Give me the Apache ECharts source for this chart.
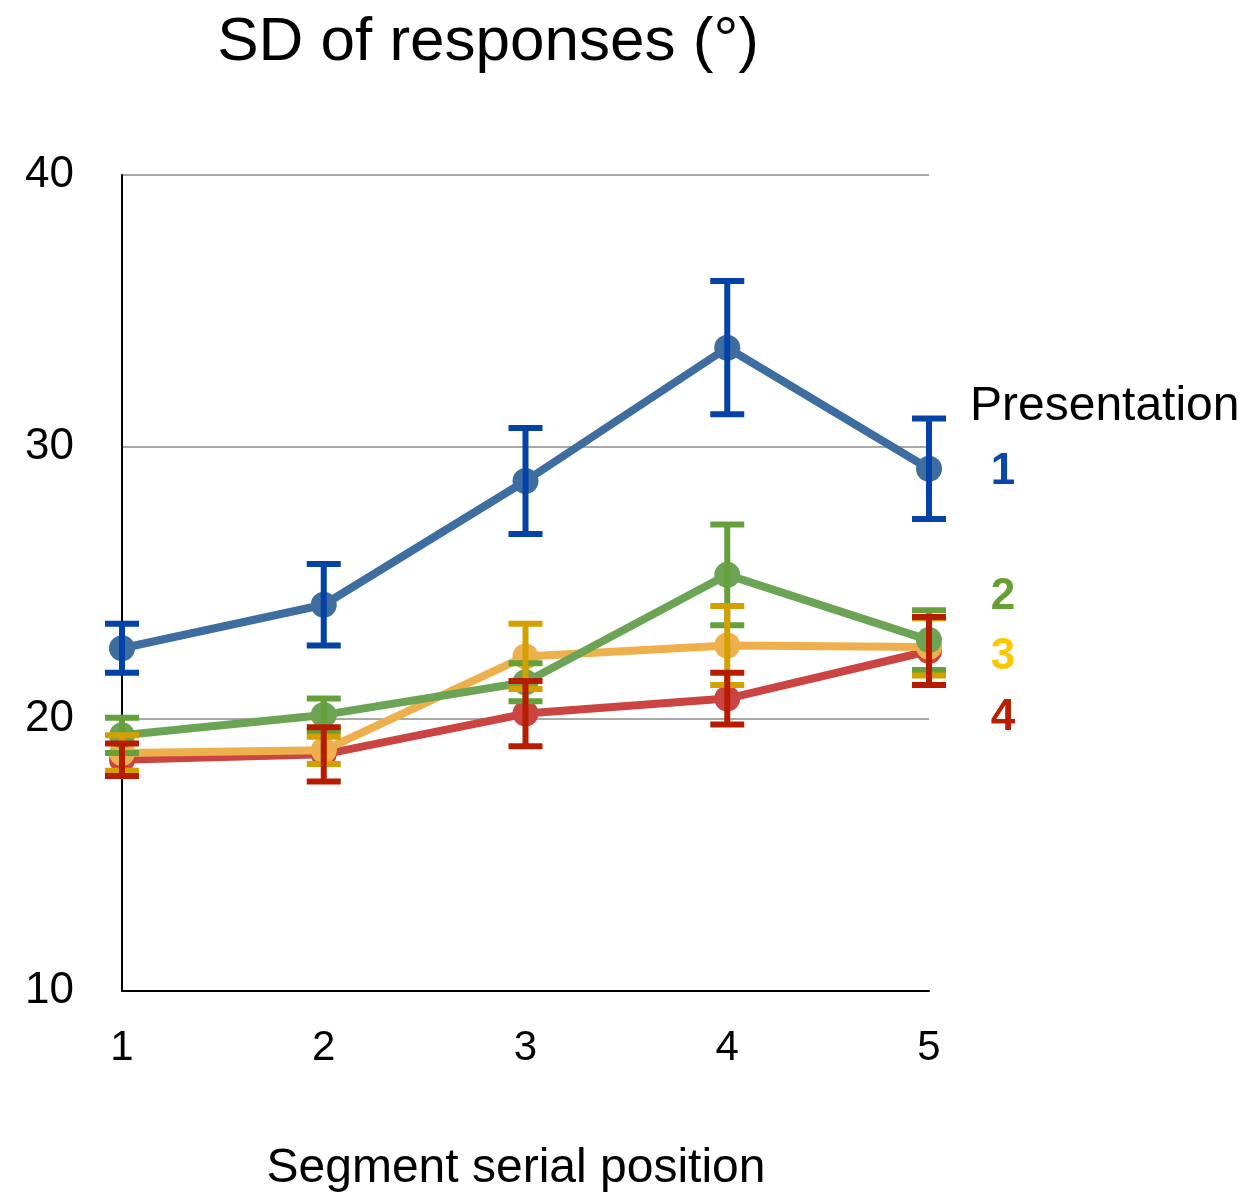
<!DOCTYPE html>
<html>
<head>
<meta charset="utf-8">
<title>SD of responses</title>
<script src="https://cdn.jsdelivr.net/npm/echarts@6/dist/echarts.min.js"></script>
<style>
  html, body { margin: 0; padding: 0; background: #ffffff; }
  #chart { width: 1257px; height: 1196px; }
</style>
</head>
<body>
<div id="chart"></div>
<script>
// Segment serial positions (x axis)
const positions = [1, 2, 3, 4, 5];
const yTicks = [10, 20, 30, 40];

// Mean SD of responses (degrees) per presentation, with error half-widths
const pres1Mean = [22.6, 24.2, 28.75, 33.65, 29.2];
const pres1Err  = [0.9, 1.5, 1.95, 2.45, 1.85];
const pres2Mean = [19.4, 20.15, 21.35, 25.3, 22.9];
const pres2Err  = [0.65, 0.6, 0.7, 1.85, 1.1];
const pres3Mean = [18.75, 18.85, 22.3, 22.7, 22.65];
const pres3Err  = [0.65, 0.5, 1.2, 1.45, 1.05];
const pres4Mean = [18.5, 18.7, 20.2, 20.75, 22.5];
const pres4Err  = [0.6, 1.0, 1.2, 0.95, 1.25];

const presLabels = ['1', '2', '3', '4'];

const FONT = '"Liberation Sans", Arial, Helvetica, sans-serif';

const groups = [
  { mean: pres1Mean, err: pres1Err, line: '#3d6e9f', bar: '#0542a8', label: '#0b47aa' },
  { mean: pres2Mean, err: pres2Err, line: '#6ca456', bar: '#66a03a', label: '#66a035' },
  { mean: pres3Mean, err: pres3Err, line: '#eeb04d', bar: '#d4a000', label: '#fbc800' },
  { mean: pres4Mean, err: pres4Err, line: '#cc4442', bar: '#b81c00', label: '#b81e00' }
];

// line z-order: red lowest, blue highest
const lineZ = [5, 4, 3, 2];

const series = [];
groups.forEach((g, i) => {
  series.push({
    name: 'Presentation ' + presLabels[i],
    type: 'line',
    data: positions.map((x, k) => [x, g.mean[k]]),
    symbol: 'circle',
    symbolSize: 26,
    lineStyle: { color: g.line, width: 8 },
    itemStyle: { color: g.line },
    z: lineZ[i],
    animation: false
  });
});

function errorBarRender(color) {
  return function (params, api) {
    const x = api.value(0);
    const lo = api.coord([x, api.value(1)]);
    const hi = api.coord([x, api.value(2)]);
    const half = 17;
    const style = { stroke: color, lineWidth: 6, fill: null };
    return {
      type: 'group',
      children: [
        { type: 'line', shape: { x1: hi[0], y1: hi[1], x2: lo[0], y2: lo[1] }, style: style },
        { type: 'line', shape: { x1: hi[0] - half, y1: hi[1], x2: hi[0] + half, y2: hi[1] }, style: style },
        { type: 'line', shape: { x1: lo[0] - half, y1: lo[1], x2: lo[0] + half, y2: lo[1] }, style: style }
      ]
    };
  };
}

groups.forEach((g, i) => {
  series.push({
    type: 'custom',
    renderItem: errorBarRender(g.bar),
    data: positions.map((x, k) => [x, g.mean[k] - g.err[k], g.mean[k] + g.err[k]]),
    encode: { x: 0, y: [1, 2] },
    z: 10 + i,
    animation: false
  });
});

const chart = echarts.init(document.getElementById('chart'), null, { renderer: 'canvas' });

const legendY = [472, 597, 657, 718];

chart.setOption({
  backgroundColor: '#ffffff',
  animation: false,
  grid: { left: 122, right: 328, top: 175, bottom: 205, containLabel: false },
  xAxis: {
    type: 'value',
    min: positions[0],
    max: positions[positions.length - 1],
    interval: 1,
    axisLine: { show: true, onZero: false, lineStyle: { color: '#000', width: 2 } },
    axisTick: { show: false },
    splitLine: { show: false },
    axisLabel: {
      color: '#000', fontSize: 42, fontFamily: FONT, margin: 36,
      formatter: v => String(v)
    }
  },
  yAxis: {
    type: 'value',
    min: yTicks[0],
    max: yTicks[yTicks.length - 1],
    interval: 10,
    axisLine: { show: true, lineStyle: { color: '#000', width: 2 } },
    axisTick: { show: false },
    splitLine: { show: true, lineStyle: { color: '#a8a8a8', width: 2 } },
    axisLabel: {
      color: '#000', fontSize: 44, fontFamily: FONT, margin: 48,
      padding: [8, 0, 0, 0]
    }
  },
  graphic: [
    {
      type: 'text', x: 488, y: 43,
      style: {
        text: 'SD of responses (°)', fill: '#000', font: '62px ' + FONT,
        align: 'center', verticalAlign: 'middle'
      }
    },
    {
      type: 'text', x: 516, y: 1169,
      style: {
        text: 'Segment serial position', fill: '#000', font: '48px ' + FONT,
        align: 'center', verticalAlign: 'middle'
      }
    },
    {
      type: 'text', x: 970, y: 407,
      style: {
        text: 'Presentation', fill: '#000', font: '48px ' + FONT,
        align: 'left', verticalAlign: 'middle'
      }
    }
  ].concat(presLabels.map((t, i) => ({
    type: 'text', x: 1003, y: legendY[i],
    style: {
      text: t, fill: groups[i].label, font: 'bold 44px ' + FONT,
      align: 'center', verticalAlign: 'middle'
    }
  }))),
  series: series
});
</script>
</body>
</html>
